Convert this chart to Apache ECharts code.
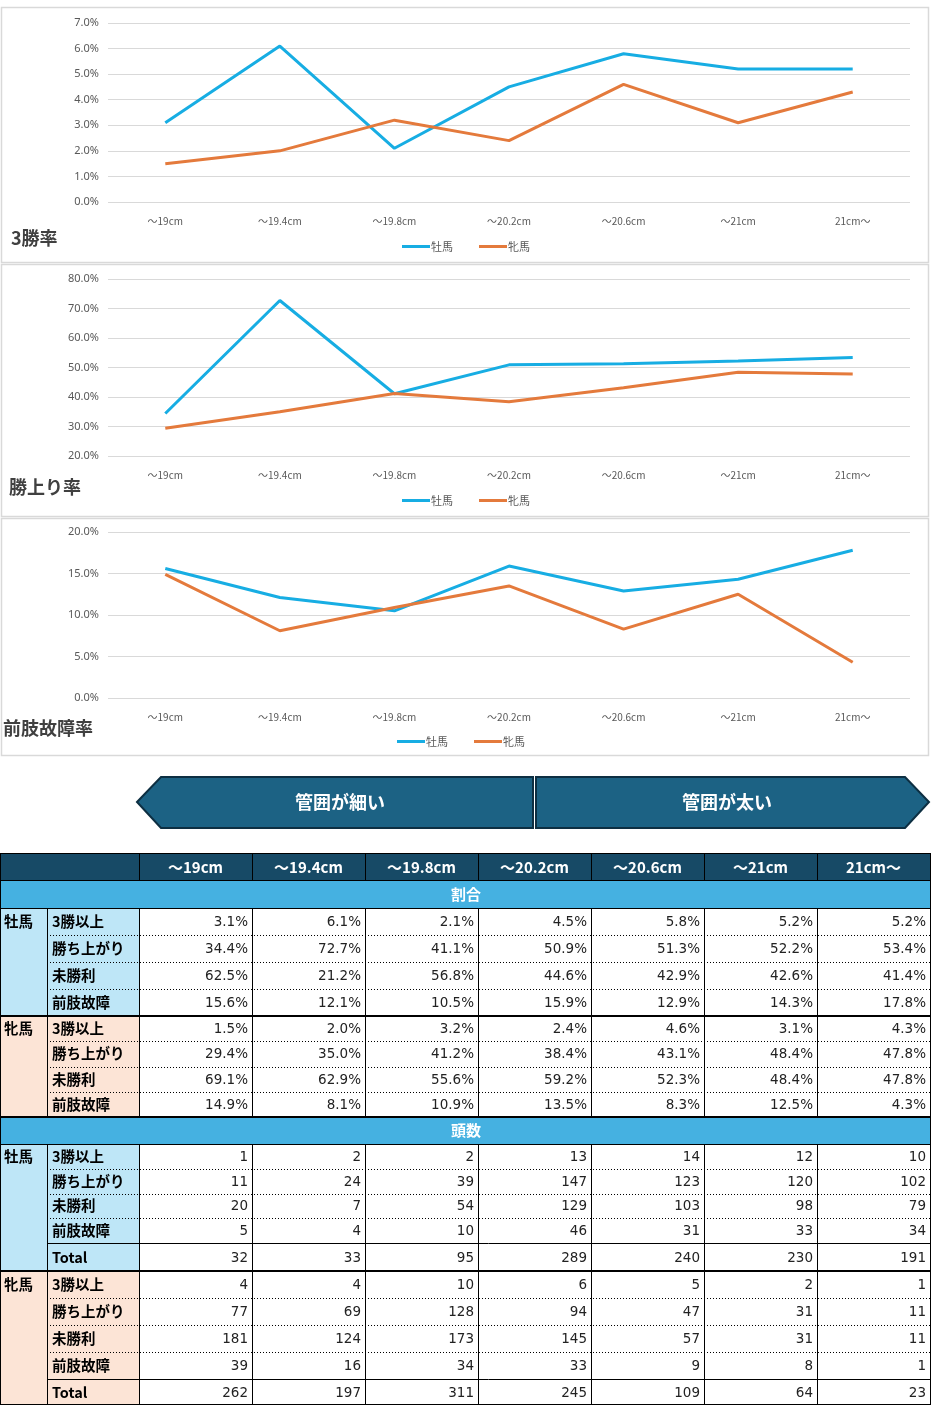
<!DOCTYPE html>
<html>
<head>
<meta charset="utf-8">
<script src="https://cdn.jsdelivr.net/npm/echarts@6/dist/echarts.min.js"></script>
<style>
html, body { margin: 0; padding: 0; background: #fff; }
#main { width: 931px; height: 1405px; }
</style>
</head>
<body>
<div id="main"></div>
<script>
// 管囲別の成績
var categories = ['～19cm', '～19.4cm', '～19.8cm', '～20.2cm', '～20.6cm', '～21cm', '21cm～'];
var seriesNames = ['牡馬', '牝馬'];
var rowLabels = ['3勝以上', '勝ち上がり', '未勝利', '前肢故障'];

// 割合 (%)
var maleWin3 = [3.1, 6.1, 2.1, 4.5, 5.8, 5.2, 5.2];
var maleWinUp = [34.4, 72.7, 41.1, 50.9, 51.3, 52.2, 53.4];
var maleMaiden = [62.5, 21.2, 56.8, 44.6, 42.9, 42.6, 41.4];
var maleInjury = [15.6, 12.1, 10.5, 15.9, 12.9, 14.3, 17.8];
var femaleWin3 = [1.5, 2.0, 3.2, 2.4, 4.6, 3.1, 4.3];
var femaleWinUp = [29.4, 35.0, 41.2, 38.4, 43.1, 48.4, 47.8];
var femaleMaiden = [69.1, 62.9, 55.6, 59.2, 52.3, 48.4, 47.8];
var femaleInjury = [14.9, 8.1, 10.9, 13.5, 8.3, 12.5, 4.3];

// 頭数
var maleCnt3 = [1, 2, 2, 13, 14, 12, 10];
var maleCntWinUp = [11, 24, 39, 147, 123, 120, 102];
var maleCntMaiden = [20, 7, 54, 129, 103, 98, 79];
var maleCntInjury = [5, 4, 10, 46, 31, 33, 34];
var maleCntTotal = [32, 33, 95, 289, 240, 230, 191];
var femaleCnt3 = [4, 4, 10, 6, 5, 2, 1];
var femaleCntWinUp = [77, 69, 128, 94, 47, 31, 11];
var femaleCntMaiden = [181, 124, 173, 145, 57, 31, 11];
var femaleCntInjury = [39, 16, 34, 33, 9, 8, 1];
var femaleCntTotal = [262, 197, 311, 245, 109, 64, 23];

var chartTitles = ['3勝率', '勝上り率', '前肢故障率'];
var yMins = [0, 20, 0];
var yMaxs = [7, 80, 20];
var yIntervals = [1, 10, 5];

var BLUE = '#17ade3';
var ORANGE = '#e47a3c';
var CJK = '"Noto Sans CJK JP", "Noto Sans", sans-serif';
var NUM = '"DejaVu Sans", "Noto Sans", sans-serif';

var myChart = echarts.init(document.getElementById('main'));

// 3つの折れ線グラフ
var gridTops = [23, 279, 532];
var gridHeights = [179, 177, 166];
var titleTops = [229, 478, 719];
var titleLefts = [11, 9, 3];
var legendTops = [241, 495, 736];
var legendLefts = [402, 402, 397];
var lineData = [[maleWin3, femaleWin3], [maleWinUp, femaleWinUp], [maleInjury, femaleInjury]];

var grids = [], xAxes = [], yAxes = [], series = [], titles = [], legends = [];
for (var i = 0; i < 3; i++) {
    grids.push({ left: 108, right: 21, top: gridTops[i], height: gridHeights[i] });
    xAxes.push({
        type: 'category', gridIndex: i, data: categories, boundaryGap: true,
        axisLine: { show: false }, axisTick: { show: false },
        axisLabel: { color: '#595959', fontSize: 10, fontFamily: CJK, margin: 14 }
    });
    yAxes.push({
        type: 'value', gridIndex: i, min: yMins[i], max: yMaxs[i], interval: yIntervals[i],
        axisLine: { show: false }, axisTick: { show: false },
        splitLine: { lineStyle: { color: '#d9d9d9', width: 1 } },
        axisLabel: {
            color: '#595959', fontSize: 11, fontFamily: '"Noto Sans", sans-serif', margin: 9,
            formatter: function (v) { return v.toFixed(1) + '%'; }
        }
    });
    for (var s = 0; s < 2; s++) {
        series.push({
            name: seriesNames[s], type: 'line', xAxisIndex: i, yAxisIndex: i,
            data: lineData[i][s], symbol: 'none',
            lineStyle: { width: 3, color: s === 0 ? BLUE : ORANGE },
            itemStyle: { color: s === 0 ? BLUE : ORANGE }
        });
    }
    titles.push({
        text: chartTitles[i], left: titleLefts[i], top: titleTops[i], padding: 0,
        textStyle: { color: '#404040', fontSize: 18, fontWeight: 'bold', fontFamily: CJK }
    });
    legends.push({
        data: seriesNames, left: legendLefts[i], top: legendTops[i], padding: 0,
        icon: 'rect', itemWidth: 28, itemHeight: 3, itemGap: 26,
        selectedMode: false,
        textStyle: { color: '#595959', fontSize: 11, fontFamily: CJK, padding: [0, 0, 0, -4] }
    });
}

// 枠・矢印・表は graphic で描く
var bgs = [], lines = [], texts = [];
function addRect(x, y, w, h, fill) {
    bgs.push({ type: 'rect', silent: true, shape: { x: x, y: y, width: w, height: h }, style: { fill: fill } });
}
function addLine(x1, y1, x2, y2, dashed, color) {
    lines.push({
        type: 'line', silent: true,
        shape: { x1: x1, y1: y1, x2: x2, y2: y2 },
        style: { stroke: color || '#000', lineWidth: 1, lineDash: dashed ? [1, 2] : null }
    });
}
function addText(t, x, y, size, weight, fill, align, family) {
    texts.push({
        type: 'text', silent: true,
        style: {
            text: t, x: x, y: y, fill: fill, align: align, verticalAlign: 'middle',
            fontSize: size, fontWeight: weight, fontFamily: family || CJK
        }
    });
}

// グラフの枠
var panelTops = [7, 264, 518];
var panelBottoms = [262, 516, 755];
var panels = [];
for (var p = 0; p < 3; p++) {
    panels.push({
        type: 'rect', silent: true, z: -1,
        shape: { x: 1.5, y: panelTops[p] + 0.5, width: 927, height: panelBottoms[p] - panelTops[p] },
        style: { fill: 'none', stroke: '#d9d9d9', lineWidth: 1.5 }
    });
}

// 矢印バナー
var banners = [
    {
        type: 'polygon', silent: true,
        shape: { points: [[137, 802], [161, 777], [533, 777], [533, 828], [161, 828]] },
        style: { fill: '#1c6284', stroke: '#0d2f42', lineWidth: 2 }
    },
    {
        type: 'polygon', silent: true,
        shape: { points: [[536, 777], [905, 777], [929, 802], [905, 828], [536, 828]] },
        style: { fill: '#1c6284', stroke: '#0d2f42', lineWidth: 2 }
    }
];
addText('管囲が細い', 340, 802, 18, 'bold', '#fff', 'center');
addText('管囲が太い', 727, 802, 18, 'bold', '#fff', 'center');

// 表
var colX = [0, 47, 139, 252, 365, 478, 591, 704, 817, 930];
var TABLE_R = 930;
var HEADER_BG = '#174a66';
var SECTION_BG = '#45b1e1';
var MALE_BG = '#bee6f7';
var FEMALE_BG = '#fce4d6';

function pct(v) { return v.toFixed(1) + '%'; }
function cnt(v) { return String(v); }

var blocks = [
    { kind: 'header', y: 853, h: 27 },
    { kind: 'section', label: '割合', y: 880, h: 28 },
    { kind: 'group', label: '牡馬', bg: MALE_BG, y: 908, heights: [27, 27, 27, 27],
      rows: rowLabels, values: [maleWin3, maleWinUp, maleMaiden, maleInjury], fmt: pct },
    { kind: 'group', label: '牝馬', bg: FEMALE_BG, y: 1016, heights: [25.25, 25.25, 25.25, 25.25],
      rows: rowLabels, values: [femaleWin3, femaleWinUp, femaleMaiden, femaleInjury], fmt: pct },
    { kind: 'section', label: '頭数', y: 1117, h: 27 },
    { kind: 'group', label: '牡馬', bg: MALE_BG, y: 1144, heights: [24.75, 24.75, 24.75, 24.75, 28],
      rows: rowLabels.concat(['Total']),
      values: [maleCnt3, maleCntWinUp, maleCntMaiden, maleCntInjury, maleCntTotal], fmt: cnt },
    { kind: 'group', label: '牝馬', bg: FEMALE_BG, y: 1271, heights: [27, 27, 27, 27, 26],
      rows: rowLabels.concat(['Total']),
      values: [femaleCnt3, femaleCntWinUp, femaleCntMaiden, femaleCntInjury, femaleCntTotal], fmt: cnt }
];

blocks.forEach(function (b) {
    var c, r;
    if (b.kind === 'header') {
        addRect(0, b.y, TABLE_R, b.h, HEADER_BG);
        for (c = 0; c < categories.length; c++) {
            addText(categories[c], (colX[c + 2] + colX[c + 3]) / 2, b.y + b.h / 2 + 1, 15, 'bold', '#fff', 'center');
            addLine(colX[c + 2] + 0.5, b.y, colX[c + 2] + 0.5, b.y + b.h, false);
        }
        addLine(0, b.y + 0.5, TABLE_R, b.y + 0.5, false);
        addLine(0.5, b.y, 0.5, b.y + b.h, false);
        addLine(TABLE_R + 0.5, b.y, TABLE_R + 0.5, b.y + b.h, false);
    } else if (b.kind === 'section') {
        addRect(0, b.y, TABLE_R, b.h, SECTION_BG);
        addText(b.label, TABLE_R / 2 + 1, b.y + b.h / 2, 15, 'bold', '#fff', 'center');
        addLine(0, b.y + 0.5, TABLE_R, b.y + 0.5, false);
        addLine(0.5, b.y, 0.5, b.y + b.h, false);
        addLine(TABLE_R + 0.5, b.y, TABLE_R + 0.5, b.y + b.h, false);
    } else {
        var total = 0;
        b.heights.forEach(function (h) { total += h; });
        addRect(0, b.y, colX[2], total, b.bg);
        addText(b.label, 4, b.y + b.heights[0] / 2, 14.5, 'bold', '#000', 'left');
        addLine(0, Math.round(b.y) + 0.5, TABLE_R, Math.round(b.y) + 0.5, false);
        var yy = b.y;
        for (r = 0; r < b.rows.length; r++) {
            var h = b.heights[r];
            var mid = yy + h / 2;
            if (r > 0) {
                var yl = Math.round(yy) + 0.5;
                addLine(colX[1], yl, TABLE_R, yl, b.rows[r] !== 'Total');
            }
            addText(b.rows[r], colX[1] + 5, mid, 14.5, 'bold', '#000', 'left');
            for (c = 0; c < categories.length; c++) {
                addText(b.fmt(b.values[r][c]), colX[c + 3] - 4, mid + 1, 13.5, 'normal', '#222', 'right', NUM);
            }
            yy += h;
        }
        for (c = 0; c < colX.length; c++) {
            addLine(colX[c] + 0.5, b.y, colX[c] + 0.5, b.y + total, false);
        }
        addLine(0, Math.round(b.y + total) - 0.5, TABLE_R, Math.round(b.y + total) - 0.5, false);
    }
});

var option = {
    backgroundColor: '#fff',
    animation: false,
    title: titles,
    legend: legends,
    grid: grids,
    xAxis: xAxes,
    yAxis: yAxes,
    series: series,
    graphic: panels.concat(banners, bgs, lines, texts)
};

myChart.setOption(option);
</script>
</body>
</html>
